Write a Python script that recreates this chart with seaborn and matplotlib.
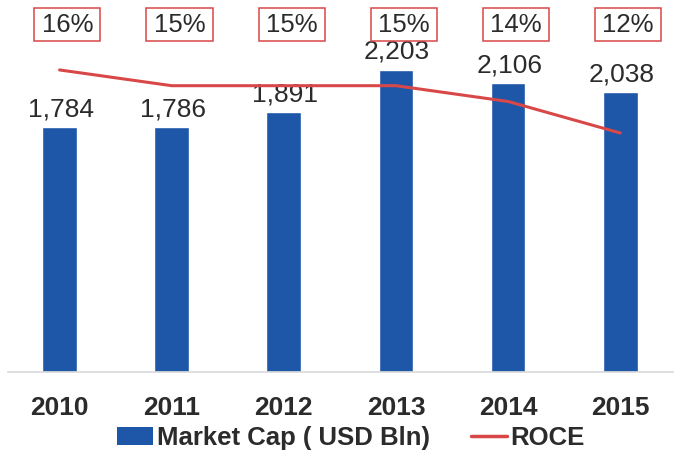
import numpy as np
import pandas as pd
import matplotlib
matplotlib.use("Agg")
import matplotlib.pyplot as plt
import matplotlib.transforms as mtransforms
from matplotlib.patches import Patch, Rectangle
from matplotlib.lines import Line2D
import seaborn as sns

# Data
years = ["2010", "2011", "2012", "2013", "2014", "2015"]
market_cap = [1784, 1786, 1891, 2203, 2106, 2038]   # USD Bln
roce = [16, 15, 15, 15, 14, 12]                      # percent

BAR_COLOR = "#1E56A8"
LINE_COLOR = "#D94848"
TEXT_COLOR = "#2B2B2B"

sns.set_theme(style="white")
plt.rcParams["font.family"] = ["Liberation Sans", "DejaVu Sans"]

df = pd.DataFrame({"year": years, "market_cap": market_cap, "roce": roce})
pos = np.arange(len(years))

fig = plt.figure(figsize=(6.74, 4.59), dpi=100)
W, H = 674, 459
left, right, top, bottom = 8, 674, 40, 372
ax = fig.add_axes([left / W, 1 - bottom / H, (right - left) / W, (bottom - top) / H])

sns.barplot(data=df, x="year", y="market_cap", color=BAR_COLOR, width=0.31,
            saturation=1, ax=ax)
ax.set_xlim(-0.46, 5.48)
ax.set_ylim(0, 2418)

# value labels above bars
for i, v in enumerate(market_cap):
    ax.annotate(f"{v:,}", (i + 0.01, v), xytext=(0, 4), textcoords="offset points",
                ha="center", va="bottom", fontsize=19, color=TEXT_COLOR)

# ROCE on secondary axis
ax2 = ax.twinx()
sns.lineplot(x=pos, y=roce, color=LINE_COLOR, linewidth=2.2, ax=ax2)
ax2.set_ylim(-3.17, 17.9)
ax2.set_xlim(ax.get_xlim())

# boxed ROCE labels along the top
trans = mtransforms.blended_transform_factory(ax.transData, fig.transFigure)
box_w = 0.59           # data units
box_h = 33 / H         # figure fraction
box_cy = 1 - 25 / H
for i, r in enumerate(roce):
    cx = pos[i] + 0.07
    fig.patches.append(Rectangle((cx - box_w / 2, box_cy - box_h / 2), box_w, box_h,
                                 transform=trans, facecolor="white",
                                 edgecolor=LINE_COLOR, linewidth=1.1))
    fig.text(cx, box_cy, f"{r}%", transform=trans, ha="center", va="center",
             fontsize=18.5, color=TEXT_COLOR)

for a in (ax, ax2):
    a.set_yticks([])
    a.set_ylabel("")
    for s in ("top", "right", "left"):
        a.spines[s].set_visible(False)
ax2.spines["bottom"].set_visible(False)
ax.spines["bottom"].set_color("#D9D9D9")
ax.spines["bottom"].set_linewidth(1.2)

ax.set_xlabel("")
ax.tick_params(axis="x", length=0, pad=17, labelsize=19, labelcolor=TEXT_COLOR)
for lbl in ax.get_xticklabels():
    lbl.set_fontweight("bold")

handles = [Patch(facecolor=BAR_COLOR, edgecolor="none"),
           Line2D([0], [0], color=LINE_COLOR, linewidth=2.5)]
fig.legend(handles, ["Market Cap ( USD Bln)", "ROCE"], loc="center",
           bbox_to_anchor=(351 / W, 1 - 438 / H), ncol=2, frameon=False,
           prop=dict(size=18.5, weight="bold"), handlelength=1.4,
           handletextpad=0.15, columnspacing=1.6, labelcolor=TEXT_COLOR)

fig.savefig("out.png", dpi=100, facecolor="white")
